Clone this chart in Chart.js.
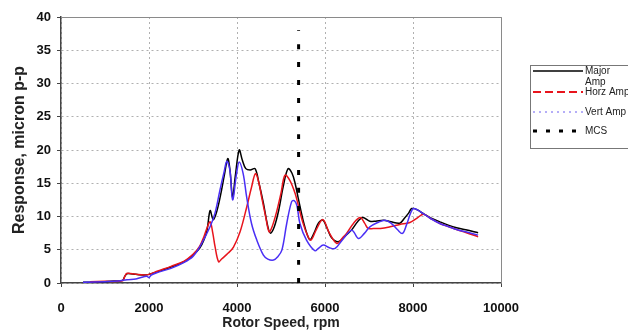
<!DOCTYPE html>
<html>
<head>
<meta charset="utf-8">
<script src="https://cdn.jsdelivr.net/npm/chart.js@4"></script>
<style>
  html, body { margin: 0; padding: 0; background: #fff; }
  #wrap { width: 628px; height: 335px; position: relative; }
</style>
</head>
<body>
<div id="wrap"><canvas id="graph" width="628" height="335"></canvas></div>
<script>
// Major Amp (black)
const majorRpm = [500,800,1000,1200,1400,1450,1500,1700,1900,2000,2200,2500,2800,3000,3150,3250,3320,3390,3460,3550,3650,3720,3790,3840,3900,3960,4050,4120,4200,4300,4410,4500,4600,4700,4760,4850,4950,5050,5160,5250,5320,5400,5500,5600,5660,5750,5850,5950,6050,6150,6300,6450,6600,6750,6860,7020,7150,7330,7500,7700,7800,7900,7970,8100,8230,8400,8610,8800,8990,9200,9480];
const majorAmp = [0.1,0.15,0.2,0.3,0.4,1.0,1.4,1.3,1.2,1.3,1.7,2.4,3.2,4.2,5.2,6.5,8.0,10.9,9.5,11,14,16.5,18.7,17,12.9,16,20,18.5,17.2,17,17.2,15,12,8.5,7.5,8.5,11,14.5,17.2,16.5,15,12.5,9.5,7.2,6.5,7.5,9,9.45,8.2,6.8,6.2,7,7.95,9.3,9.85,9.3,9.3,9.45,9.2,9,9.7,10.5,11.2,11.0,10.45,9.8,9.2,8.7,8.3,8,7.55];

// Horz Amp (red)
const horzRpm = [660,1000,1400,1450,1500,1700,1900,2000,2200,2500,2800,3000,3150,3250,3320,3390,3450,3500,3580,3650,3800,3920,4070,4220,4330,4420,4500,4560,4650,4730,4800,4900,5000,5090,5200,5320,5400,5500,5600,5680,5800,5950,6100,6270,6400,6490,6650,6800,6900,6980,7100,7260,7480,7700,7930,8100,8240,8400,8610,8800,8990,9200,9480];
const horzAmp = [0.2,0.25,0.35,1.0,1.45,1.3,1.2,1.3,1.8,2.5,3.3,4.3,5.5,7,8.3,9.2,7.5,5.5,3.2,3.6,4.5,5.4,7.7,11.4,14.4,16.45,15,12.9,10,7.7,8.5,10.7,13.5,16.2,15.45,13.5,11.5,9,7.2,6.45,8,9.55,7.5,5.95,6.8,7.45,9,9.85,9,8.2,8.2,8.2,8.45,8.8,9.1,9.8,10.35,9.7,8.95,8.5,8.05,7.6,6.95];

// Vert Amp (blue)
const vertRpm = [500,1000,1300,1500,1700,1800,1950,2000,2050,2200,2500,2800,3000,3160,3390,3500,3610,3700,3770,3840,3900,3990,4050,4140,4220,4330,4450,4600,4700,4830,4920,5020,5130,5240,5300,5360,5430,5580,5770,5850,5960,6100,6230,6420,6610,6760,6900,7020,7200,7360,7500,7650,7760,7850,7950,8010,8100,8230,8400,8610,8800,8990,9200,9480];
const vertAmp = [0.1,0.2,0.3,0.5,0.6,0.8,1.0,0.8,1.2,1.6,2.2,3.1,4.0,5.5,8.5,10.5,13.9,16.5,18.3,16.9,12.5,16.45,18.2,16.45,12.9,8.95,6.45,4.2,3.6,3.45,3.9,4.95,8.95,12.2,12.4,11.7,8.95,6.45,4.85,5.2,5.7,5.3,5.2,6.7,7.95,6.7,7.5,8.45,9.1,9.45,9,8,7.45,8.7,10.6,11.2,11,10.45,9.7,8.95,8.5,8.05,7.7,7.2];

// MCS marker
const mcsRpm = [5400, 5400];
const mcsAmp = [0, 38];

const seriesNames = ['Major Amp', 'Horz Amp', 'Vert Amp', 'MCS'];

const pts = (xs, ys) => xs.map((x, i) => ({ x: x, y: ys[i] }));

const FONT = '"Liberation Sans", Arial, sans-serif';

// caixa da legenda desenhada à mão
const legendBox = {
  id: 'legendBox',
  afterDraw(chart) {
    const c = chart.ctx;
    c.save();
    c.fillStyle = '#fff';
    c.strokeStyle = '#777';
    c.lineWidth = 1;
    c.fillRect(530.5, 65.5, 110, 83);
    c.strokeRect(530.5, 65.5, 110, 83);

    const row = (y, color, width, dash) => {
      c.beginPath();
      c.setLineDash(dash);
      c.strokeStyle = color;
      c.lineWidth = width;
      c.moveTo(533, y);
      c.lineTo(583, y);
      c.stroke();
      c.setLineDash([]);
    };
    row(71, '#000', 1.5, []);
    row(92, '#e8141c', 2, [8, 4]);
    row(112, '#6a5cf0', 1, [2, 4]);
    row(131, '#000', 3, [4, 9]);

    c.fillStyle = '#222';
    c.font = '10px ' + FONT;
    c.textBaseline = 'middle';
    c.textAlign = 'left';
    c.fillText('Major', 585, 71);
    c.fillText('Amp', 585, 82);
    c.fillText(seriesNames[1], 585, 92);
    c.fillText(seriesNames[2], 585, 112);
    c.fillText(seriesNames[3], 585, 131);
    c.restore();
  }
};

// moldura cinza do gráfico (topo e direita)
const frame = {
  id: 'frame',
  beforeDatasetsDraw(chart) {
    const a = chart.chartArea;
    const c = chart.ctx;
    c.save();
    c.strokeStyle = '#8a8a8a';
    c.lineWidth = 1;
    c.beginPath();
    c.moveTo(a.left, a.top + 0.5);
    c.lineTo(a.right + 0.5, a.top + 0.5);
    c.lineTo(a.right + 0.5, a.bottom);
    c.stroke();
    c.restore();
  }
};

const ctx = document.getElementById('graph').getContext('2d');

new Chart(ctx, {
  type: 'line',
  data: {
    datasets: [
      {
        label: seriesNames[0],
        data: pts(majorRpm, majorAmp),
        borderColor: '#000',
        borderWidth: 1.5,
        order: 4
      },
      {
        label: seriesNames[1],
        data: pts(horzRpm, horzAmp),
        borderColor: '#e8141c',
        borderWidth: 1.5,
        order: 3
      },
      {
        label: seriesNames[2],
        data: pts(vertRpm, vertAmp),
        borderColor: '#4a2ff5',
        borderWidth: 1.5,
        order: 2
      },
      {
        label: seriesNames[3],
        data: pts(mcsRpm, mcsAmp),
        borderColor: '#000',
        borderWidth: 3,
        borderDash: [5, 13],
        order: 1
      }
    ]
  },
  options: {
    responsive: false,
    animation: false,
    layout: { padding: { left: 10, right: 127, top: 17, bottom: 0 } },
    elements: {
      point: { radius: 0 },
      line: { tension: 0.35, fill: false }
    },
    plugins: {
      legend: { display: false },
      tooltip: { enabled: false }
    },
    scales: {
      x: {
        type: 'linear',
        min: 0,
        max: 10000,
        title: {
          display: true,
          text: 'Rotor Speed, rpm',
          color: '#222',
          font: { family: FONT, size: 14, weight: 'bold' },
          padding: { top: 0, bottom: 3 }
        },
        ticks: {
          stepSize: 2000,
          color: '#111',
          padding: 14,
          maxRotation: 0,
          font: { family: FONT, size: 13, weight: 'bold' },
          callback: (v) => String(v)
        },
        grid: {
          color: '#b0b0b0',
          tickColor: '#444',
          tickLength: 4
        },
        border: { color: '#444', width: 1.5, dash: [2, 3] },
        afterFit: (s) => { s.height = 52; }
      },
      y: {
        min: 0,
        max: 40,
        title: {
          display: true,
          text: 'Response, micron p-p',
          color: '#222',
          font: { family: FONT, size: 16, weight: 'bold' },
          padding: { top: 0, bottom: 2 }
        },
        ticks: {
          stepSize: 5,
          color: '#111',
          padding: 6,
          font: { family: FONT, size: 13, weight: 'bold' }
        },
        grid: {
          color: '#b0b0b0',
          tickColor: '#444',
          tickLength: 4
        },
        border: { color: '#444', width: 1.5, dash: [2, 3] },
        afterFit: (s) => { s.width = 51; }
      }
    }
  },
  plugins: [frame, legendBox]
});
</script>
</body>
</html>
